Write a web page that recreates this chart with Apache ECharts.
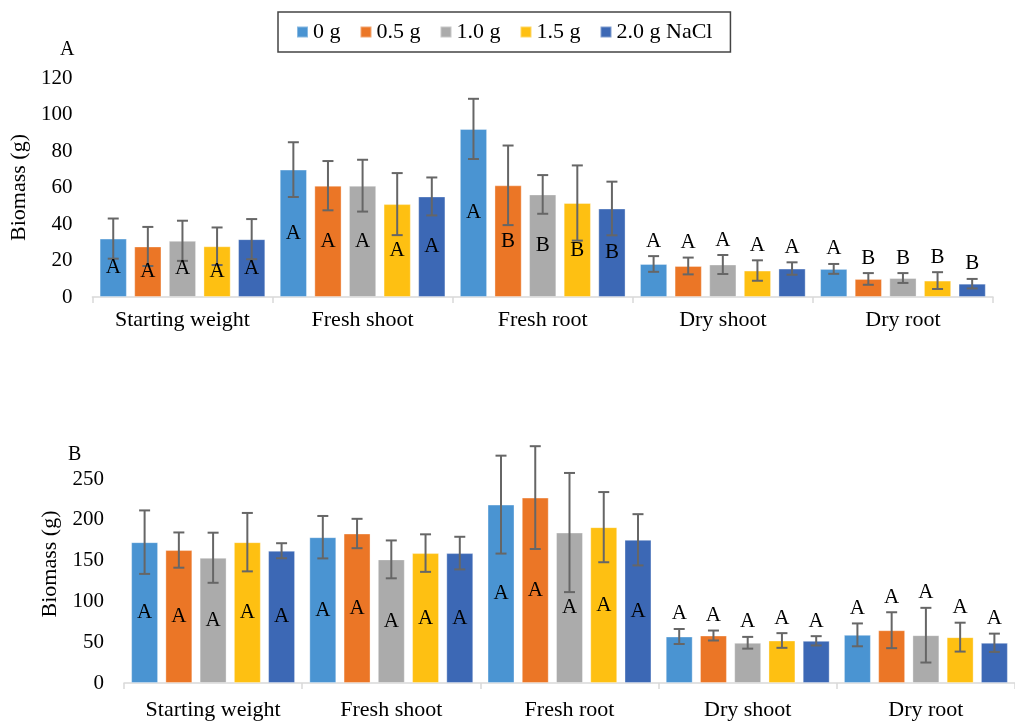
<!DOCTYPE html>
<html>
<head>
<meta charset="utf-8">
<script src="https://cdn.jsdelivr.net/npm/echarts@6/dist/echarts.min.js"></script>
<style>
html,body{margin:0;padding:0;background:#fff;}
#chart{width:1015px;height:721px;}
</style>
</head>
<body>
<div id="chart"></div>
<script>
// ---------- DATA ----------
const categories = ['Starting weight', 'Fresh shoot', 'Fresh root', 'Dry shoot', 'Dry root'];
const seriesNames = ['0 g', '0.5 g', '1.0 g', '1.5 g', '2.0 g NaCl'];

// Panel A means
const A_0g   = [32.0, 69.8, 92.1, 18.1, 15.4];
const A_05g  = [27.7, 61.0, 61.2, 17.0, 9.9];
const A_10g  = [30.8, 61.0, 56.2, 17.8, 10.4];
const A_15g  = [27.8, 50.9, 51.5, 14.5, 9.0];
const A_20g  = [31.7, 55.1, 48.5, 15.6, 7.3];
// Panel A error (+/-)
const A_err0g  = [11.0, 15.0, 16.5, 4.3, 2.7];
const A_err05g = [10.7, 13.5, 21.8, 4.6, 3.2];
const A_err10g = [11.0, 14.2, 10.6, 5.2, 2.7];
const A_err15g = [10.3, 17.0, 20.6, 5.6, 4.6];
const A_err20g = [11.0, 10.4, 14.7, 3.4, 2.6];
// Panel A letters
const A_let0g  = ['A', 'A', 'A', 'A', 'A'];
const A_let05g = ['A', 'A', 'B', 'A', 'B'];
const A_let10g = ['A', 'A', 'B', 'A', 'B'];
const A_let15g = ['A', 'A', 'B', 'A', 'B'];
const A_let20g = ['A', 'A', 'B', 'A', 'B'];

// Panel B means
const B_0g   = [172.6, 178.7, 218.6, 57.0, 59.0];
const B_05g  = [162.9, 183.2, 227.2, 58.2, 64.7];
const B_10g  = [153.5, 151.5, 184.4, 49.3, 58.6];
const B_15g  = [172.6, 159.2, 191.0, 52.1, 56.2];
const B_20g  = [162.1, 159.2, 175.5, 51.7, 49.3];
// Panel B error (+/-)
const B_err0g  = [38.9, 26.0, 60.0, 9.2, 14.0];
const B_err05g = [21.6, 18.0, 63.0, 6.1, 22.0];
const B_err10g = [30.7, 23.2, 73.0, 7.2, 33.5];
const B_err15g = [35.8, 23.0, 43.0, 9.0, 17.7];
const B_err20g = [9.2, 20.0, 31.4, 5.7, 11.2];
// Panel B letters
const B_let0g  = ['A', 'A', 'A', 'A', 'A'];
const B_let05g = ['A', 'A', 'A', 'A', 'A'];
const B_let10g = ['A', 'A', 'A', 'A', 'A'];
const B_let15g = ['A', 'A', 'A', 'A', 'A'];
const B_let20g = ['A', 'A', 'A', 'A', 'A'];

// letter placement per category: inside bar or above error bar
const letterPlacement = ['in', 'in', 'in', 'above', 'above'];

const A_ticks = { min: 0, max: 120, interval: 20 };
const B_ticks = { min: 0, max: 250, interval: 50 };

// ---------- STYLE ----------
const colors = ['#4A94D2', '#EB7626', '#ABABAB', '#FEC012', '#3C68B5'];
const FONT = 'Liberation Serif';
const FS = 21;
const FS_CAT = 22;
const BAR_GAP = 0.27, CAT_GAP = 0.08;

const A_means = [A_0g, A_05g, A_10g, A_15g, A_20g];
const A_errs = [A_err0g, A_err05g, A_err10g, A_err15g, A_err20g];
const A_lets = [A_let0g, A_let05g, A_let10g, A_let15g, A_let20g];
const B_means = [B_0g, B_05g, B_10g, B_15g, B_20g];
const B_errs = [B_err0g, B_err05g, B_err10g, B_err15g, B_err20g];
const B_lets = [B_let0g, B_let05g, B_let10g, B_let15g, B_let20g];

function barSeries(idx, means, s) {
  return {
    type: 'bar', name: seriesNames[s], xAxisIndex: idx, yAxisIndex: idx,
    data: means, barGap: (BAR_GAP * 100) + '%', barCategoryGap: (CAT_GAP * 100) + '%',
    itemStyle: { color: colors[s], borderColor: 'rgba(255,255,255,0.35)', borderWidth: 1 },
    z: 2
  };
}

function errSeries(idx, means, errs, lets, s) {
  return {
    type: 'custom', xAxisIndex: idx, yAxisIndex: idx, z: 5, silent: true,
    data: means.map((m, i) => [i, m, errs[i]]),
    renderItem: function (params, api) {
      const ci = api.value(0), m = api.value(1), e = api.value(2);
      const band = api.size([1, 0])[0];
      const w = band * (1 - CAT_GAP) / (5 + 4 * BAR_GAP);
      const cx = api.coord([ci, 0])[0] + (s - 2) * w * (1 + BAR_GAP);
      const yTop = api.coord([ci, m + e])[1];
      const yBot = api.coord([ci, m - e])[1];
      const yMid = api.coord([ci, m / 2])[1];
      const cap = 5.5;
      const st = { stroke: '#666666', lineWidth: 2 };
      const letter = lets[ci];
      const ly = letterPlacement[ci] === 'in' ? yMid : yTop - 15;
      return {
        type: 'group',
        children: [
          { type: 'line', shape: { x1: cx, y1: yTop, x2: cx, y2: yBot }, style: st },
          { type: 'line', shape: { x1: cx - cap, y1: yTop, x2: cx + cap, y2: yTop }, style: st },
          { type: 'line', shape: { x1: cx - cap, y1: yBot, x2: cx + cap, y2: yBot }, style: st },
          { type: 'text', x: cx, y: ly, style: { text: letter, fill: '#000', font: FS + 'px "' + FONT + '"', align: 'center', verticalAlign: 'middle' } }
        ]
      };
    }
  };
}

const series = [];
for (let s = 0; s < 5; s++) series.push(barSeries(0, A_means[s], s));
for (let s = 0; s < 5; s++) series.push(barSeries(1, B_means[s], s));
for (let s = 0; s < 5; s++) series.push(errSeries(0, A_means[s], A_errs[s], A_lets[s], s));
for (let s = 0; s < 5; s++) series.push(errSeries(1, B_means[s], B_errs[s], B_lets[s], s));

function xAxis(idx, margin) {
  return {
    type: 'category', gridIndex: idx, data: categories,
    axisLine: { lineStyle: { color: '#d9d9d9', width: 1.5 } },
    axisTick: { show: true, length: 6, lineStyle: { color: '#d9d9d9', width: 1.5 } },
    axisLabel: { color: '#000', fontFamily: FONT, fontSize: FS_CAT, margin: margin, interval: 0 }
  };
}
function yAxis(idx, t, nameGap, namePad) {
  return {
    type: 'value', gridIndex: idx, min: t.min, max: t.max, interval: t.interval,
    name: 'Biomass (g)', nameLocation: 'middle', nameGap: nameGap,
    nameTextStyle: { color: '#000', fontFamily: FONT, fontSize: FS_CAT, padding: namePad },
    axisLine: { show: false }, axisTick: { show: false }, splitLine: { show: false },
    axisLabel: { color: '#000', fontFamily: FONT, fontSize: FS, margin: 20 }
  };
}

const option = {
  animation: false,
  backgroundColor: '#fff',
  color: colors,
  title: [
    { text: 'A', left: 55, top: 35, textStyle: { fontFamily: FONT, fontSize: 20, fontWeight: 'normal', color: '#000' } },
    { text: 'B', left: 63, top: 440, textStyle: { fontFamily: FONT, fontSize: 20, fontWeight: 'normal', color: '#000' } }
  ],
  legend: {
    data: seriesNames, left: 278, top: 12,
    padding: [9, 18, 9, 18], itemGap: 19, itemWidth: 11, itemHeight: 11,
    icon: 'rect', borderColor: '#444', borderWidth: 1.5,
    textStyle: { fontFamily: FONT, fontSize: FS_CAT, color: '#000', padding: [0, 0, 0, 0] }
  },
  grid: [
    { left: 91, right: 22, top: 78, height: 219 },
    { left: 124, right: -11, top: 479, height: 205 }
  ],
  xAxis: [xAxis(0, 12), xAxis(1, 16)],
  yAxis: [yAxis(0, A_ticks, 53, [0, 0, 0, 0]), yAxis(1, B_ticks, 58, [0, 0, 0, 34])],
  series: series
};

const chart = echarts.init(document.getElementById('chart'), null, { renderer: 'canvas' });
chart.setOption(option);
</script>
</body>
</html>
